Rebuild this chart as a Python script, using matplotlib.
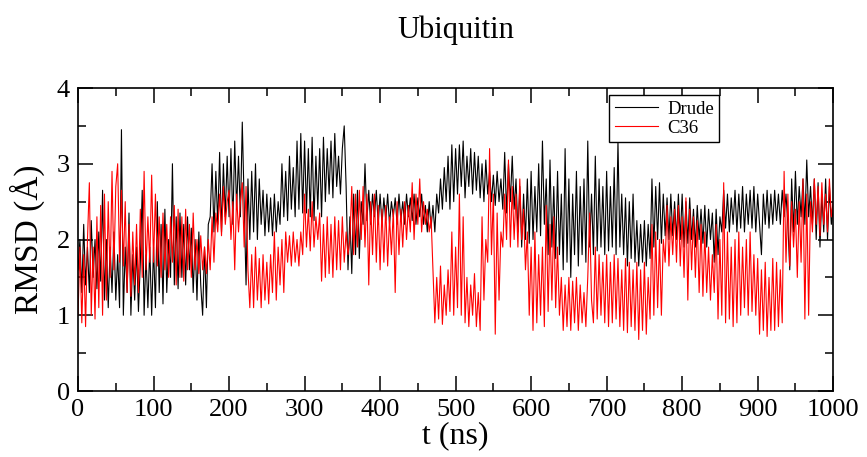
import numpy as np
import matplotlib
matplotlib.use("Agg")
import matplotlib.pyplot as plt
from matplotlib.ticker import MultipleLocator

# RMSD, one value every 2.5 ns (0 .. 1000 ns)
step_ns = 2.5

drude = [
    # 0 - 97.5
    1.6, 2.0, 1.3, 2.2, 1.4, 1.9, 1.3, 2.25, 1.5, 2.0, 1.35, 2.1, 1.45, 2.65, 1.2, 2.0, 1.1, 1.9, 1.3, 2.1,
    1.2, 1.8, 1.1, 3.45, 1.0, 1.9, 1.3, 2.35, 1.0, 1.8, 1.2, 1.9, 1.05, 1.7, 2.65, 1.0, 1.8, 1.1, 1.9, 1.0,
    # 100 - 197.5
    1.9, 1.1, 2.5, 1.3, 2.2, 1.15, 2.4, 1.3, 2.0, 1.5, 3.0, 1.4, 2.3, 1.35, 2.35, 1.5, 2.2, 1.4, 2.3, 1.6,
    2.15, 1.3, 2.0, 1.2, 2.1, 1.4, 1.0, 1.9, 1.1, 2.2, 2.3, 3.0, 2.1, 2.9, 2.2, 3.15, 2.1, 3.0, 2.3, 3.1,
    # 200 - 297.5
    2.3, 3.2, 2.2, 3.3, 2.4, 3.1, 2.3, 3.55, 2.5, 1.4, 2.8, 2.0, 2.9, 2.1, 3.0, 2.0, 2.8, 2.2, 2.65, 2.05,
    2.6, 2.1, 2.55, 2.05, 2.6, 2.1, 2.5, 2.2, 3.0, 2.3, 2.9, 2.25, 3.1, 2.4, 2.95, 2.3, 3.3, 2.4, 3.4, 2.35,
    # 300 - 397.5
    3.3, 2.35, 3.2, 2.3, 3.35, 2.25, 3.1, 2.4, 3.2, 2.3, 3.35, 2.5, 3.2, 2.6, 3.3, 2.55, 3.4, 2.7, 3.1, 2.6,
    3.2, 3.5, 2.7, 1.6, 2.3, 1.55, 2.6, 1.8, 2.65, 1.75, 2.5, 2.2, 3.0, 2.25, 2.65, 2.2, 2.6, 2.3, 2.65, 2.2,
    # 400 - 497.5
    2.6, 2.2, 2.55, 2.25, 2.6, 2.2, 2.5, 2.3, 2.55, 2.2, 2.6, 2.25, 2.5, 2.2, 2.6, 2.3, 2.55, 2.25, 2.6, 2.2,
    2.55, 2.3, 2.6, 2.2, 2.45, 2.1, 2.5, 2.15, 2.45, 2.1, 2.6, 2.35, 2.8, 2.4, 2.95, 2.5, 3.1, 2.4, 3.25, 2.5,
    # 500 - 597.5
    3.2, 2.6, 3.25, 2.7, 3.3, 2.55, 3.1, 2.7, 3.2, 2.6, 3.15, 2.65, 3.1, 2.55, 3.0, 2.5, 3.05, 2.6, 2.9, 2.5,
    2.85, 2.45, 2.9, 2.5, 2.8, 2.4, 3.15, 2.35, 3.0, 2.5, 3.1, 2.4, 2.8, 2.1, 2.7, 1.9, 2.6, 2.0, 2.8, 1.95,
    # 600 - 697.5
    2.9, 2.0, 2.7, 2.1, 3.0, 2.05, 3.3, 2.2, 2.8, 1.8, 3.05, 1.9, 2.7, 1.75, 2.9, 1.8, 2.6, 1.6, 3.2, 1.7,
    2.8, 1.5, 2.6, 1.8, 2.9, 1.65, 2.7, 1.8, 2.8, 1.7, 3.3, 1.9, 2.6, 1.8, 3.1, 1.85, 2.8, 1.9, 2.7, 1.8,
    # 700 - 797.5
    2.9, 1.85, 2.7, 1.9, 2.95, 1.8, 3.3, 1.9, 2.6, 1.8, 2.55, 1.65, 2.5, 1.75, 2.6, 1.7, 2.25, 1.65, 2.2, 1.7,
    2.25, 1.65, 2.2, 1.75, 2.8, 1.9, 2.7, 2.0, 2.75, 1.95, 2.6, 2.05, 2.55, 2.0, 2.6, 2.05, 2.5, 2.0, 2.6, 2.0,
    # 800 - 897.5
    2.6, 1.9, 2.5, 1.95, 2.55, 2.0, 2.4, 1.9, 2.45, 2.0, 2.4, 1.95, 2.45, 1.9, 2.4, 2.0, 2.35, 1.7, 2.4, 1.8,
    2.3, 2.1, 2.65, 2.15, 2.6, 2.1, 2.55, 2.2, 2.65, 2.1, 2.6, 2.15, 2.7, 2.1, 2.6, 2.2, 2.65, 2.15, 2.7, 2.1,
    # 900 - 1000
    2.6, 2.2, 1.8, 2.6, 2.2, 2.65, 2.15, 2.6, 2.2, 2.65, 2.25, 2.6, 2.2, 2.65, 2.3, 2.6, 2.2, 1.6, 2.8, 2.1,
    2.9, 2.2, 2.7, 2.3, 2.8, 2.2, 3.05, 2.3, 2.7, 2.2, 2.8, 2.0, 2.75, 1.9, 2.6, 2.1, 2.8, 2.0, 2.7, 2.2,
    2.4,
]

c36 = [
    # 0 - 97.5
    1.0, 1.9, 0.9, 1.8, 0.85, 2.0, 2.75, 1.0, 1.9, 0.95, 2.3, 1.1, 2.45, 1.0, 2.6, 1.2, 2.5, 1.5, 2.9, 1.6,
    2.7, 3.0, 1.7, 2.65, 1.65, 2.5, 1.3, 2.2, 1.25, 2.1, 1.4, 2.2, 1.3, 2.4, 1.5, 2.9, 1.6, 2.3, 1.7, 2.85,
    # 100 - 197.5
    1.7, 2.6, 1.65, 2.3, 1.5, 2.35, 1.6, 2.2, 1.5, 2.3, 1.7, 2.45, 1.4, 2.4, 1.5, 2.3, 1.45, 2.4, 1.6, 2.2,
    1.5, 2.35, 1.6, 2.0, 1.55, 2.05, 1.6, 1.9, 1.55, 2.0, 1.6, 2.3, 1.7, 2.35, 2.1, 2.6, 2.05, 2.7, 2.2, 2.5,
    # 200 - 297.5
    2.65, 2.0, 2.5, 1.6, 2.6, 2.1, 2.5, 2.75, 1.9, 2.7, 1.6, 1.1, 1.8, 1.1, 1.9, 1.2, 1.75, 1.1, 1.8, 1.2,
    1.7, 1.15, 1.8, 1.3, 2.1, 1.2, 1.9, 1.4, 2.0, 1.3, 2.1, 1.7, 2.05, 1.65, 2.1, 1.7, 2.0, 1.65, 2.1, 1.8,
    # 300 - 397.5
    2.6, 1.9, 2.4, 1.85, 2.5, 1.9, 2.3, 2.0, 2.35, 1.45, 2.2, 1.5, 2.3, 1.55, 2.2, 1.5, 2.3, 1.6, 2.25, 1.6,
    2.3, 1.7, 2.1, 1.8, 2.0, 2.7, 1.8, 2.6, 1.9, 2.65, 2.0, 2.7, 1.9, 2.6, 1.4, 2.5, 1.8, 2.6, 1.7, 2.45,
    # 400 - 497.5
    1.6, 2.4, 1.7, 2.45, 1.65, 2.3, 1.8, 2.4, 1.3, 2.5, 1.8, 2.4, 1.9, 2.5, 2.0, 2.45, 2.1, 2.75, 2.0, 2.6,
    2.2, 2.8, 2.1, 2.5, 2.2, 2.4, 2.1, 2.3, 1.6, 0.9, 1.5, 0.95, 1.65, 0.88, 1.4, 1.0, 1.6, 1.05, 2.1, 1.0,
    # 500 - 597.5
    1.9, 1.1, 2.6, 1.0, 2.3, 0.9, 1.5, 0.85, 1.4, 1.0, 1.55, 0.85, 1.3, 0.8, 2.3, 1.2, 2.0, 1.7, 3.2, 1.8,
    2.6, 0.75, 2.35, 1.2, 2.1, 1.9, 2.6, 2.0, 3.05, 1.9, 2.7, 2.0, 2.6, 1.9, 2.8, 2.0, 2.4, 1.6, 2.1, 1.0,
    # 600 - 697.5
    1.9, 0.8, 2.1, 0.9, 1.8, 1.0, 1.9, 0.85, 2.45, 1.05, 2.2, 1.2, 2.3, 1.1, 1.9, 1.0, 1.5, 0.8, 1.4, 0.85,
    1.5, 0.8, 1.45, 0.9, 1.5, 0.8, 1.4, 0.9, 1.3, 0.85, 1.5, 2.35, 1.2, 0.9, 1.9, 0.95, 1.8, 1.0, 1.7, 0.9,
    # 700 - 797.5
    1.8, 0.85, 1.7, 0.9, 1.8, 0.95, 1.75, 0.85, 1.6, 0.8, 1.75, 0.77, 1.7, 0.85, 1.6, 0.8, 1.7, 0.68, 1.6, 0.8,
    1.7, 0.75, 1.5, 0.95, 2.2, 1.0, 2.1, 1.1, 2.0, 1.0, 2.0, 1.7, 2.45, 1.65, 2.3, 1.8, 2.4, 1.7, 2.45, 1.65,
    # 800 - 897.5
    2.3, 1.5, 2.55, 1.2, 2.4, 1.6, 2.3, 1.5, 2.25, 1.3, 2.2, 1.25, 2.1, 1.3, 1.9, 1.2, 1.8, 1.3, 2.2, 0.95,
    2.0, 1.0, 2.75, 0.9, 2.1, 0.95, 1.9, 0.85, 2.0, 0.9, 2.1, 1.0, 1.9, 1.1, 2.0, 1.0, 2.1, 1.05, 1.8, 1.0,
    # 900 - 1000
    1.75, 0.75, 1.6, 0.8, 1.7, 0.72, 1.5, 0.8, 1.75, 0.8, 1.7, 0.85, 1.6, 0.9, 2.9, 1.7, 2.6, 1.65, 2.5, 1.9,
    2.4, 1.5, 2.5, 1.7, 2.8, 0.95, 2.6, 1.0, 2.5, 2.1, 2.8, 2.2, 2.7, 2.05, 2.75, 2.2, 2.6, 2.1, 2.8, 2.3,
    2.5,
]

t_drude = step_ns * np.arange(len(drude))
t_c36 = step_ns * np.arange(len(c36))

plt.rcParams['font.family'] = ['Liberation Serif', 'DejaVu Serif']

fig = plt.figure(figsize=(8.67, 4.57), dpi=100)
ax = fig.add_axes([0.09, 0.1444, 0.871, 0.663])

ax.plot(t_drude, drude, color='black', lw=0.8, label='Drude')
ax.plot(t_c36, c36, color='red', lw=0.8, label='C36')

ax.set_xlim(0, 1000)
ax.set_ylim(0, 4)
ax.xaxis.set_major_locator(MultipleLocator(100))
ax.xaxis.set_minor_locator(MultipleLocator(50))
ax.yaxis.set_major_locator(MultipleLocator(1))
ax.yaxis.set_minor_locator(MultipleLocator(0.5))
ax.tick_params(which='both', direction='in', top=True, right=True, width=1.1, labelsize=19)
ax.tick_params(which='major', length=11, pad=6)
ax.tick_params(which='minor', length=5.5)
for s in ax.spines.values():
    s.set_linewidth(1.2)

ax.set_xlabel('t (ns)', fontsize=23, labelpad=0)
ax.set_ylabel('RMSD (Å)', fontsize=24, labelpad=8)
ax.set_title('Ubiquitin', fontsize=22, pad=36)

leg = ax.legend(loc='upper left', bbox_to_anchor=(0.703, 0.977), borderaxespad=0,
                fontsize=13.5, fancybox=False, framealpha=1, edgecolor='black',
                handlelength=2.3, handletextpad=0.5, borderpad=0.3, labelspacing=0.1)
leg.get_frame().set_linewidth(1.0)

fig.savefig('out.png', dpi=100)
